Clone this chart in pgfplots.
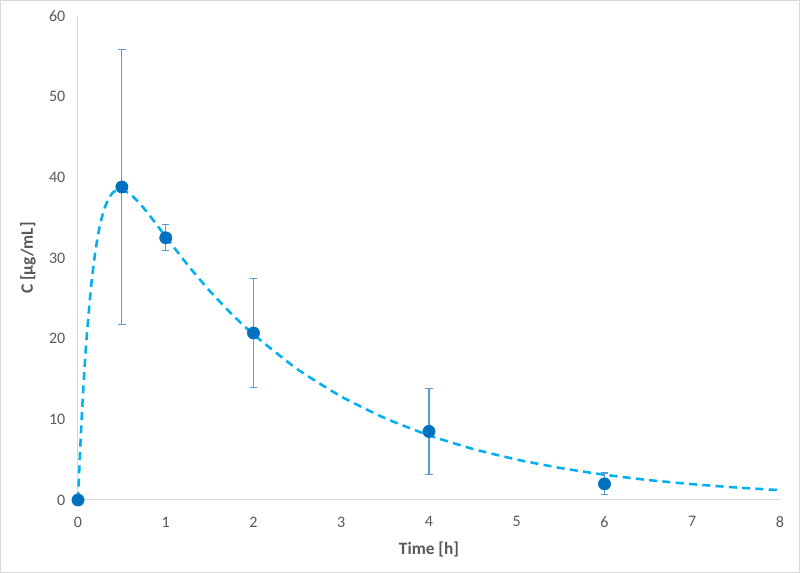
\documentclass[border=0pt]{standalone}
\usepackage{fontspec}
\setmainfont{Carlito}
\usepackage{pgfplots}
\pgfplotsset{compat=1.18}
\definecolor{txtgray}{HTML}{595959}
\definecolor{axgray}{HTML}{D9D9D9}
\definecolor{curve}{HTML}{00B0F0}
\definecolor{pts}{HTML}{0070C0}
\definecolor{errc}{HTML}{5B9BD5}
\begin{document}
\begin{tikzpicture}[x=0.75pt,y=0.75pt]
\fill[white] (0,0) rectangle (800,573);
\draw[axgray, line width=0.75pt] (0.5,0.5) rectangle (799.5,572.5);
\begin{axis}[
  at={(58.5pt,54.75pt)}, anchor=origin,
  scale only axis, width=526.5pt, height=363pt,
  xmin=0, xmax=8, ymin=0, ymax=60,
  xtick={0,1,...,8}, ytick={0,10,...,60},
  axis x line=bottom, axis y line=left,
  axis line style={axgray, line width=0.75pt, -},
  major tick length=0pt,
  tick label style={font=\fontsize{12}{14}\selectfont, text=txtgray},
  /pgf/number format/assume math mode=true,
  xticklabel style={yshift=-9pt},
  yticklabel style={xshift=-6pt},
  xlabel={\textbf{Time [h]}},
  ylabel={\textbf{C [µg/mL]}},
  label style={font=\fontsize{13}{15}\selectfont, text=txtgray},
  xlabel style={yshift=-4pt},
  ylabel style={yshift=3pt},
  clip=false,
]
\addplot[curve, line width=1.9pt, dash pattern=on 6pt off 4pt, smooth, tension=0.3] coordinates {
(0,0) (0.025,6.36) (0.05,11.80) (0.075,16.44) (0.1,20.40) (0.15,26.60)
(0.2,31.00) (0.25,34.06) (0.3,36.10) (0.35,37.40) (0.4,38.14) (0.45,38.46)
(0.5,38.47) (0.6,37.88) (0.7,36.81) (0.8,35.50) (0.9,34.08) (1.0,32.64)
(1.25,29.13) (1.5,25.93) (1.75,23.07) (2,20.51) (2.5,16.21) (3,12.82)
(3.5,10.13) (4,8.01) (4.5,6.33) (5,5.01) (5.5,3.96) (6,3.13) (6.5,2.47)
(7,1.96) (7.5,1.55) (8,1.22)
};
\addplot[only marks, mark=*, mark size=4.6pt, mark options={fill=pts, draw=pts},
  error bars/.cd, y dir=both, y explicit,
  error bar style={errc, line width=0.8pt},
  error mark options={errc, rotate=90, mark size=2.8pt, line width=0.8pt}]
  coordinates {
(0,0) +- (0,0)
(0.5,38.8) +- (0,17.1)
(1,32.5) +- (0,1.6)
(2,20.7) +- (0,6.8)
(4,8.5) +- (0,5.35)
(6,2.0) +- (0,1.35)
};
\end{axis}
\end{tikzpicture}
\end{document}
